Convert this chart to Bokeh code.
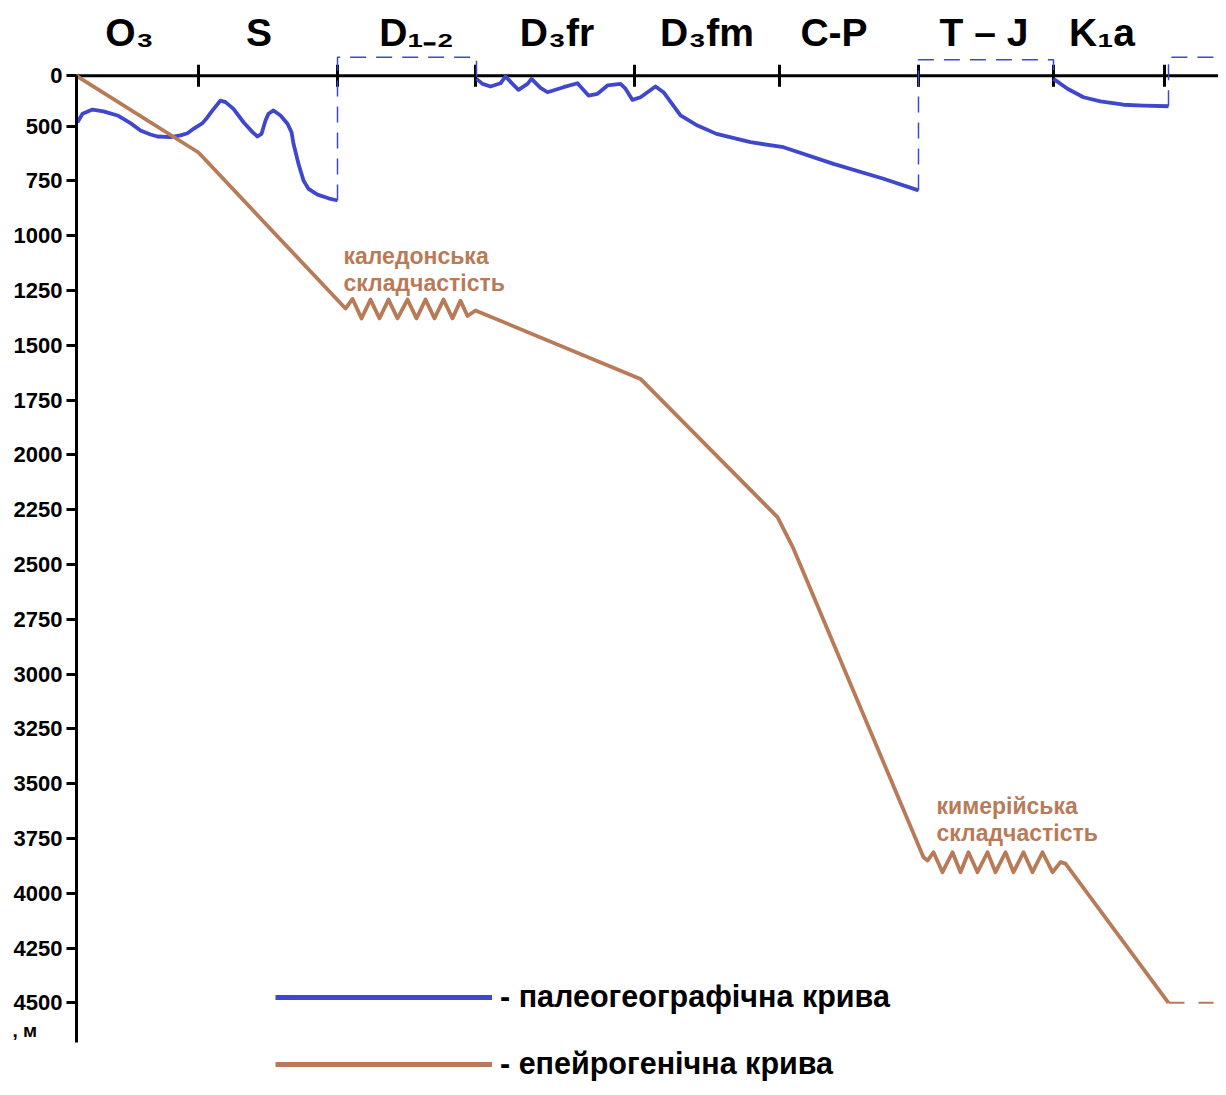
import numpy as np
from bokeh.plotting import figure
from bokeh.models import (Range1d, LinearAxis, FixedTicker, Legend, LegendItem)
from bokeh.core.properties import value
from bokeh.embed import file_html
from bokeh.resources import INLINE

# ---------------- data ----------------
# stratigraphic units along the (relative) time axis
periods = ["O₃", "S", "D₁₋₂", "D₃fr", "D₃fm", "C-P", "T – J", "K₁a"]
period_bounds = [0, 122, 261, 399, 558, 703, 842, 977, 1088]

# depth axis (m); the surface ("0") line of the chart
surface_level = 270
depth_ticks = [500, 750, 1000, 1250, 1500, 1750, 2000, 2250, 2500, 2750,
               3000, 3250, 3500, 3750, 4000, 4250, 4500]
depth_unit = ", м"

# palaeogeographic curve (blue), three segments separated by hiatuses
paleo1_x = [1, 6, 16, 27, 41, 54, 64, 74, 81, 94, 104, 111, 117, 126, 131,
            136, 144, 149, 157, 167, 176, 181, 185, 187, 189, 192, 197, 204,
            211, 215, 217, 222, 227, 232, 241, 252, 261]
paleo1_y = [482, 443, 424, 432, 451, 486, 520, 538, 547, 550, 542, 532, 512,
            486, 459, 428, 383, 390, 421, 482, 527, 547, 535, 505, 474, 443,
            428, 451, 489, 527, 580, 672, 748, 786, 812, 829, 839]
paleo2_x = [400, 406, 414, 424, 429, 436, 442, 451, 455, 464, 471, 487, 501,
            512, 521, 531, 544, 549, 556, 564, 579, 587, 604, 621, 640, 674,
            707, 757, 807, 842]
paleo2_y = [284, 307, 319, 304, 273, 307, 334, 307, 284, 325, 345, 322, 304,
            360, 352, 314, 307, 329, 380, 368, 319, 345, 451, 497, 535, 573,
            596, 672, 740, 793]
paleo3_x = [977, 991, 1007, 1024, 1047, 1067, 1092]
paleo3_y = [284, 329, 368, 387, 402, 406, 409]
hiatus_level = [185, 197, 185]

# epeirogenic curve (brown)
epei_x = [0, 122, 269, 276, 285, 294, 303, 312, 321, 331, 340, 349, 358,
          367, 376, 384, 391, 399, 564, 701, 717, 847, 851, 857, 866, 876,
          884, 892, 901, 911, 919, 929, 937, 947, 956, 966, 976, 984, 989,
          1092]
epei_y = [270, 620, 1332, 1288, 1377, 1291, 1377, 1291, 1377, 1291, 1377,
          1291, 1377, 1291, 1377, 1296, 1366, 1341, 1653, 2284, 2428, 3836,
          3851, 3813, 3904, 3813, 3904, 3813, 3904, 3813, 3904, 3813, 3904,
          3813, 3904, 3813, 3904, 3858, 3865, 4500]
epei_tail_x = [1092, 1137]
epei_tail_y = [4500, 4500]

# folding events
folding_labels = [("каледонська", "складчастість"), ("кимерійська", "складчастість")]
folding_x = [267, 860]
folding_y = [(1091, 1217), (3601, 3726)]

legend_labels = ["- палеогеографічна крива", "- епейрогенічна крива"]

# ---------------- styling ----------------
BLUE = "#3f48cc"
BROWN = "#b97a57"
FONT = "Liberation Sans"
X_START, X_END = -76, 1142

p = figure(width=1218, height=1087,
           x_range=Range1d(X_START, X_END), y_range=Range1d(4886.4, -73.6),
           output_backend="svg", toolbar_location=None,
           x_axis_location=None, y_axis_location=None,
           min_border_left=0, min_border_right=0,
           min_border_top=0, min_border_bottom=0,
           outline_line_color=None, background_fill_color="white")
p.xgrid.visible = False
p.ygrid.visible = False

# left depth axis, fixed at the start of the time axis
yaxis = LinearAxis(ticker=FixedTicker(ticks=[surface_level] + depth_ticks),
                   bounds=(surface_level, 4680), fixed_location=period_bounds[0])
yaxis.major_label_overrides = {surface_level: "0"}
yaxis.axis_line_width = 3
yaxis.axis_line_color = "black"
yaxis.major_tick_line_width = 3
yaxis.major_tick_line_color = "black"
yaxis.major_tick_out = 10
yaxis.major_tick_in = 0
yaxis.minor_tick_out = 0
yaxis.minor_tick_in = 0
yaxis.major_label_standoff = 4
yaxis.major_label_text_font = FONT
yaxis.major_label_text_font_size = "22px"
yaxis.major_label_text_font_style = "bold"
yaxis.major_label_text_color = "black"
p.add_layout(yaxis, "left")

# unit of the depth axis
p.text(x=[X_START + 12], y=[4626], text=[depth_unit],
       text_font=value(FONT), text_font_style="bold", text_font_size="19px",
       text_align="left", text_baseline="middle", text_color="black")

# top time axis line with period ticks
p.line([period_bounds[0], X_END], [surface_level, surface_level],
       line_color="black", line_width=3)
p.scatter(x=period_bounds[1:], y=[surface_level] * (len(period_bounds) - 1),
          marker="dash", size=22, angle=np.pi / 2,
          line_color="black", line_width=3)

# period labels
label_nudge = [-8, -9, 10, 2, 0, -15, -2, -7]
centers = [(a + b) / 2 + n for a, b, n in
           zip(period_bounds[:-1], period_bounds[1:], label_nudge)]
p.text(x=centers, y=[73] * len(periods), text=periods,
       text_font=value(FONT), text_font_style="bold", text_font_size="39px",
       text_align="center", text_baseline="alphabetic", text_color="black")

# palaeogeographic curve + hiatus connectors
segs = [(paleo1_x, paleo1_y), (paleo2_x, paleo2_y), (paleo3_x, paleo3_y)]
for sx, sy in segs:
    p.line(sx, sy, line_color=BLUE, line_width=3.8, line_join="round")
for i, (sx, sy) in enumerate(segs):
    hx = [sx[-1], sx[-1]]
    hy = [sy[-1], hiatus_level[i]]
    if i + 1 < len(segs):
        nx, ny = segs[i + 1]
        hx += [nx[0], nx[0]]
        hy += [hiatus_level[i], ny[0]]
    else:
        hx += [X_END]
        hy += [hiatus_level[i]]
    p.line(hx, hy, line_color=BLUE, line_width=1.5, line_dash="16 10")

# epeirogenic curve
p.line(epei_x, epei_y, line_color=BROWN, line_width=3.8, line_join="round")
p.line(epei_tail_x, epei_tail_y, line_color=BROWN, line_width=2,
       line_dash="16 14")

# folding labels
for (l1, l2), fx, (y1, y2) in zip(folding_labels, folding_x, folding_y):
    p.text(x=[fx, fx], y=[y1, y2], text=[l1, l2],
           text_font=value(FONT), text_font_style="bold",
           text_font_size="23px", text_color=BROWN,
           text_align="left", text_baseline="alphabetic")

# legend
r_blue = p.line([-1000, -990], [0, 0], line_color=BLUE, line_width=5)
r_brown = p.line([-1000, -990], [0, 0], line_color=BROWN, line_width=5)
legend = Legend(items=[LegendItem(label=legend_labels[0], renderers=[r_blue]),
                       LegendItem(label=legend_labels[1], renderers=[r_brown])],
                location=(275, 6), orientation="vertical",
                glyph_width=217, glyph_height=30, label_height=30,
                spacing=32, padding=0, margin=0, label_standoff=8,
                label_text_font=FONT, label_text_font_style="bold",
                label_text_font_size="30.5px", label_text_color="black",
                border_line_color=None, background_fill_alpha=0)
p.add_layout(legend)

open("out.html", "w").write(file_html(p, INLINE))
